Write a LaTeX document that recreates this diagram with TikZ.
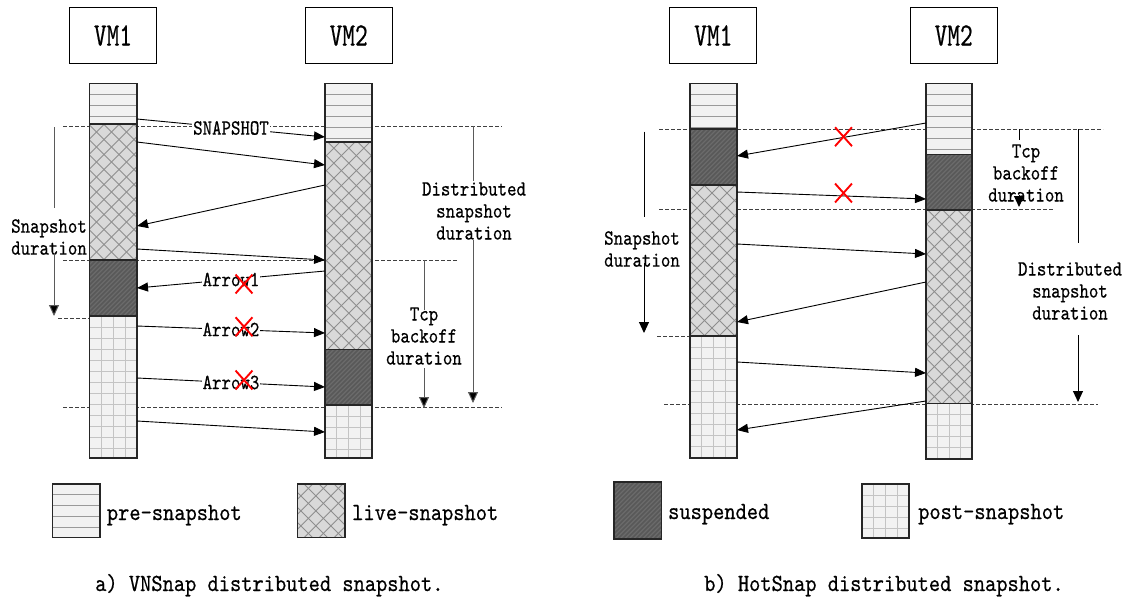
\documentclass[tikz,border=0pt]{standalone}
\usepackage{graphicx}
\usepackage{fontspec}
\usetikzlibrary{arrows.meta,shapes.misc}

\newfontfamily\diagmono{lmmono10-regular.otf}[FakeBold=0.55]

\definecolor{preFill}{HTML}{F2F2F2}
\definecolor{preLine}{HTML}{9A9A9A}
\definecolor{liveFill}{HTML}{D9D9D9}
\definecolor{liveLine}{HTML}{8E8E8E}
\definecolor{suspFill}{HTML}{595959}
\definecolor{suspLine}{HTML}{6B6B6B}
\definecolor{postFill}{HTML}{F2F2F2}
\definecolor{postLine}{HTML}{C4C4C4}
\definecolor{durLine}{HTML}{5A5A5A}

% fonts: tall, narrow monospace look
\newcommand\vstretch[2]{\scalebox{1}[#1]{#2}}
\newcommand\lblfont{\fontsize{18}{22}\selectfont\diagmono}
\newcommand\legfont{\fontsize{21.4}{26}\selectfont\diagmono}
\newcommand\vmfont{\fontsize{24.2}{28}\selectfont\diagmono}
\newcommand\smalltxt[1]{\vstretch{1.2}{#1}}
\newcommand\bigtxt[1]{\vstretch{1.15}{#1}}

% pre-snapshot segment: horizontal stripes
\newcommand\preseg[4]{%
  \begin{scope}
    \clip (#1,#2) rectangle (#3,#4);
    \fill[preFill] (#1,#2) rectangle (#3,#4);
    \foreach \k in {0,...,6}{\draw[preLine,line width=0.9pt] (#1,{#2+10.8+11*\k}) -- (#3,{#2+10.8+11*\k});}
  \end{scope}
  \draw[seg] (#1,#2) rectangle (#3,#4);}

% live-snapshot segment: diagonal cross-hatch
\newcommand\liveseg[4]{%
  \begin{scope}
    \clip (#1,#2) rectangle (#3,#4);
    \fill[liveFill] (#1,#2) rectangle (#3,#4);
    \pgfmathsetmacro\spanL{#4-#2+#3-#1}
    \pgfmathtruncatemacro\nmax{\spanL/15+1}
    \foreach \k in {0,...,\nmax}{%
      \draw[liveLine,line width=0.9pt] ({#1-(#4-#2)+15*\k},#2) -- ++(\spanL,\spanL);
      \draw[liveLine,line width=0.9pt] ({#1+15*\k},#2) -- ++(-\spanL,\spanL);}
  \end{scope}
  \draw[seg] (#1,#2) rectangle (#3,#4);}

% suspended segment: dark fill with fine stripes
\newcommand\suspseg[4]{%
  \begin{scope}
    \clip (#1,#2) rectangle (#3,#4);
    \fill[suspFill] (#1,#2) rectangle (#3,#4);
    \pgfmathsetmacro\spanL{#4-#2+#3-#1}
    \pgfmathtruncatemacro\nmax{\spanL/4.5+1}
    \foreach \k in {0,...,\nmax}{\draw[suspLine,line width=1.3pt] ({#1+4.5*\k},#2) -- ++(-\spanL,\spanL);}
  \end{scope}
  \draw[seg] (#1,#2) rectangle (#3,#4);}

% post-snapshot segment: grid
\newcommand\postseg[4]{%
  \begin{scope}
    \clip (#1,#2) rectangle (#3,#4);
    \fill[postFill] (#1,#2) rectangle (#3,#4);
    \foreach \k in {1,2,3}{\draw[postLine,line width=1pt] ({#1+(#3-#1)*\k/4},#2) -- ({#1+(#3-#1)*\k/4},#4);}
    \pgfmathtruncatemacro\nmax{(#4-#2)/11}
    \foreach \k in {1,...,\nmax}{\draw[postLine,line width=1pt] (#1,{#2+11*\k}) -- (#3,{#2+11*\k});}
  \end{scope}
  \draw[seg] (#1,#2) rectangle (#3,#4);}

\begin{document}
\begin{tikzpicture}[x=1pt,y=-1pt,
  seg/.style={draw=black!85,line width=1.1pt},
  vmbox/.style={draw,line width=0.9pt,minimum width=87pt,minimum height=56pt,inner sep=0pt,font=\vmfont},
  guide/.style={draw=black!75,line width=0.8pt,dash pattern=on 3.5pt off 2.5pt},
  msg/.style={line width=0.9pt,-{Triangle[length=11pt,width=9pt]}},
  lbl/.style={fill=white,inner sep=1pt,font=\lblfont},
  durtext/.style={inner sep=0pt,font=\lblfont,align=center},
  dur/.style={draw=durLine,line width=1pt},
  durarrow/.style={dur,-{Triangle[length=11pt,width=10pt,fill=black]}},
  durb/.style={draw=black,line width=1pt},
  durbarrow/.style={durb,-{Triangle[length=11pt,width=10pt]}},
  cross/.style={cross out,draw=red,line width=1.9pt,minimum width=15pt,minimum height=17pt,inner sep=0pt},
  legtext/.style={anchor=base west,inner sep=0pt,font=\legfont}]
\useasboundingbox (0,0) rectangle (1127,598);

% ================= a) VNSnap =================
% time guides
\coordinate (ga1l) at (63,126);  \coordinate (ga1r) at (502,126);
\coordinate (ga2l) at (63,260);  \coordinate (ga2r) at (458,260);
\coordinate (ga3l) at (58,318);  \coordinate (ga3r) at (90,318);
\coordinate (ga4l) at (63,407);  \coordinate (ga4r) at (502,407);
\draw[guide] (ga1l) -- (ga1r);
\draw[guide] (ga2l) -- (ga2r);
\draw[guide] (ga3l) -- (ga3r);
\draw[guide] (ga4l) -- (ga4r);

% VM1 timeline
\preseg{89.5}{83.3}{137}{124}
\liveseg{89.5}{124}{137}{260}
\suspseg{89.5}{260}{137}{316}
\postseg{89.5}{316}{137}{458}
% VM2 timeline
\preseg{325}{83.3}{372}{142}
\liveseg{325}{142}{372}{349.3}
\suspseg{325}{349.3}{372}{405}
\postseg{325}{405}{372}{458}

% VM headers
\node[vmbox] (avm1) at (113,35.5) {\vstretch{1.35}{VM1}};
\node[vmbox] (avm2) at (348.7,35.5) {\vstretch{1.35}{VM2}};

% messages
\coordinate (am1s) at (137,119); \coordinate (am1e) at (325,137);
\coordinate (am2s) at (137,142); \coordinate (am2e) at (325,165);
\coordinate (am3s) at (325,185); \coordinate (am3e) at (137,226);
\coordinate (am4s) at (137,249); \coordinate (am4e) at (325,260);
\coordinate (am5s) at (325,271); \coordinate (am5e) at (137,288);
\coordinate (am6s) at (137,326); \coordinate (am6e) at (325,333);
\coordinate (am7s) at (137,378); \coordinate (am7e) at (325,387);
\coordinate (am8s) at (137,421); \coordinate (am8e) at (325,432);
\draw[msg] (am1s) -- node[lbl] (snaplbl) {\smalltxt{SNAPSHOT}} (am1e);
\draw[msg] (am2s) -- (am2e);
\draw[msg] (am3s) -- (am3e);
\draw[msg] (am4s) -- (am4e);
\draw[msg] (am5s) -- node[lbl] (arr1lbl) {\smalltxt{Arrow1}} (am5e);
\draw[msg] (am6s) -- node[lbl] (arr2lbl) {\smalltxt{Arrow2}} (am6e);
\draw[msg] (am7s) -- node[lbl] (arr3lbl) {\smalltxt{Arrow3}} (am7e);
\draw[msg] (am8s) -- (am8e);
\node[cross] (ax1) at (244,284) {};
\node[cross] (ax2) at (244,326.7) {};
\node[cross] (ax3) at (244,380) {};

% durations
\node[durtext] (asnapd) at (49,237) {\smalltxt{Snapshot}\\\smalltxt{duration}};
\coordinate (asd1) at (54,127); \coordinate (asd2) at (54,208);
\coordinate (asd3) at (54,253); \coordinate (asd4) at (54,316);
\draw[dur] (asd1) -- (asd2);
\draw[durarrow] (asd3) -- (asd4);

\node[durtext] (adistd) at (474,211) {\smalltxt{Distributed}\\\smalltxt{snapshot}\\\smalltxt{duration}};
\coordinate (add1) at (473,126); \coordinate (add2) at (473,181);
\coordinate (add3) at (473,240); \coordinate (add4) at (473,403);
\draw[dur] (add1) -- (add2);
\draw[durarrow] (add3) -- (add4);

\node[durtext] (atcpd) at (424,336) {\smalltxt{Tcp}\\\smalltxt{backoff}\\\smalltxt{duration}};
\coordinate (atd1) at (424,260); \coordinate (atd2) at (424,310);
\coordinate (atd3) at (424,368); \coordinate (atd4) at (424,408);
\draw[dur] (atd1) -- (atd2);
\draw[durarrow] (atd3) -- (atd4);

% ================= b) HotSnap =================
\coordinate (gb1l) at (659,129);  \coordinate (gb1r) at (1103,129);
\coordinate (gb2l) at (659,209);  \coordinate (gb2r) at (1054,209);
\coordinate (gb3l) at (657,336);  \coordinate (gb3r) at (690,336);
\coordinate (gb4l) at (664,404);  \coordinate (gb4r) at (1098,404);
\draw[guide] (gb1l) -- (gb1r);
\draw[guide] (gb2l) -- (gb2r);
\draw[guide] (gb3l) -- (gb3r);
\draw[guide] (gb4l) -- (gb4r);

% VM1 timeline
\preseg{690}{83.3}{737}{129}
\suspseg{690}{129}{737}{185}
\liveseg{690}{185}{737}{336}
\postseg{690}{336}{737}{458}
% VM2 timeline
\preseg{926}{83.3}{972}{154.3}
\suspseg{926}{154.3}{972}{210}
\liveseg{926}{210}{972}{403.3}
\postseg{926}{403.3}{972}{459}

\node[vmbox] (bvm1) at (713.3,35.5) {\vstretch{1.35}{VM1}};
\node[vmbox] (bvm2) at (953.7,35.5) {\vstretch{1.35}{VM2}};

\coordinate (bm1s) at (926,123); \coordinate (bm1e) at (737,156);
\coordinate (bm2s) at (737,192); \coordinate (bm2e) at (926,199);
\coordinate (bm3s) at (737,244); \coordinate (bm3e) at (926,254);
\coordinate (bm4s) at (926,282); \coordinate (bm4e) at (737,322);
\coordinate (bm5s) at (737,362); \coordinate (bm5e) at (926,373);
\coordinate (bm6s) at (926,401); \coordinate (bm6e) at (737,430);
\draw[msg] (bm1s) -- (bm1e);
\draw[msg] (bm2s) -- (bm2e);
\draw[msg] (bm3s) -- (bm3e);
\draw[msg] (bm4s) -- (bm4e);
\draw[msg] (bm5s) -- (bm5e);
\draw[msg] (bm6s) -- (bm6e);
\node[cross] (bx1) at (843.5,136.7) {};
\node[cross] (bx2) at (843.5,193) {};

\node[durtext] (bsnapd) at (642,249) {\smalltxt{Snapshot}\\\smalltxt{duration}};
\coordinate (bsd1) at (644,131.7); \coordinate (bsd2) at (644,217);
\coordinate (bsd3) at (644,263); \coordinate (bsd4) at (644,333);
\draw[durb] (bsd1) -- (bsd2);
\draw[durbarrow] (bsd3) -- (bsd4);

\node[durtext] (btcpd) at (1026,173) {\smalltxt{Tcp}\\\smalltxt{backoff}\\\smalltxt{duration}};
\coordinate (btd1) at (1019,129); \coordinate (btd2) at (1019,140);
\coordinate (btd3) at (1019,195); \coordinate (btd4) at (1019,207);
\draw[durb] (btd1) -- (btd2);
\draw[durbarrow] (btd3) -- (btd4);

\node[durtext] (bdistd) at (1070,291) {\smalltxt{Distributed}\\\smalltxt{snapshot}\\\smalltxt{duration}};
\coordinate (bdd1) at (1078,129); \coordinate (bdd2) at (1078,243);
\coordinate (bdd3) at (1078,335); \coordinate (bdd4) at (1078,402);
\draw[durb] (bdd1) -- (bdd2);
\draw[durbarrow] (bdd3) -- (bdd4);

% ================= legend =================
\preseg{52.3}{484}{100}{537.7}
\node[legtext] (lpre) at (106.7,520) {\bigtxt{pre-snapshot}};
\liveseg{297.7}{484}{345}{537.7}
\node[legtext] (llive) at (352,520) {\bigtxt{live-snapshot}};
\suspseg{614}{482}{661.7}{539}
\node[legtext] (lsusp) at (668,519) {\bigtxt{suspended}};
\postseg{862}{484}{909}{538}
\node[legtext] (lpost) at (918,519) {\bigtxt{post-snapshot}};

% ================= captions =================
\node[legtext] (capa) at (95,591) {\bigtxt{a) VNSnap distributed snapshot.}};
\node[legtext] (capb) at (704,591) {\bigtxt{b) HotSnap distributed snapshot.}};
\end{tikzpicture}
\end{document}
